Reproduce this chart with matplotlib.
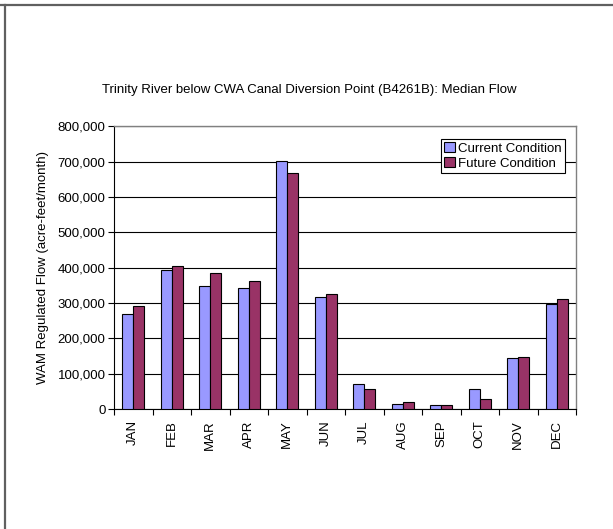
import numpy as np
import matplotlib.pyplot as plt
from matplotlib.lines import Line2D
from matplotlib.ticker import FuncFormatter

plt.rcParams['font.family'] = ['Liberation Sans', 'DejaVu Sans']

months = ['JAN', 'FEB', 'MAR', 'APR', 'MAY', 'JUN',
          'JUL', 'AUG', 'SEP', 'OCT', 'NOV', 'DEC']
current = [268000, 393000, 347000, 343000, 702000, 317000,
           70000, 15000, 11000, 58000, 143000, 297000]
future = [291000, 406000, 384000, 361000, 667000, 325000,
          56000, 20000, 11000, 27000, 148000, 312000]

fig = plt.figure(figsize=(6.13, 5.29), dpi=100)
ax = fig.add_axes([0.186, 0.2268, 0.7537, 0.5344])

x = np.arange(len(months))
w = 0.29
ax.bar(x - w / 2, current, w, color='#9999FF', edgecolor='black', linewidth=0.8,
       label='Current Condition', zorder=3)
ax.bar(x + w / 2, future, w, color='#993366', edgecolor='black', linewidth=0.8,
       label='Future Condition', zorder=3)

ax.set_xlim(-0.5, 11.5)
ax.set_ylim(0, 800000)
ax.set_yticks(np.arange(0, 800001, 100000))
ax.yaxis.set_major_formatter(FuncFormatter(lambda v, p: f'{int(v):,}'))
ax.grid(axis='y', color='black', linewidth=0.8, zorder=0)

ax.set_xticks(x)
ax.set_xticklabels(months, rotation=90)
ax.set_xticks(np.arange(-0.5, 12, 1), minor=True)
ax.tick_params(axis='x', which='major', length=0, pad=8)
ax.tick_params(axis='x', which='minor', length=4, direction='out', width=0.8)
ax.tick_params(axis='y', length=4, width=0.8, direction='out', pad=2)
ax.tick_params(labelsize=9.5)

for side in ['top', 'right']:
    ax.spines[side].set_color('#808080')
    ax.spines[side].set_linewidth(1.0)
for side in ['left', 'bottom']:
    ax.spines[side].set_color('black')
    ax.spines[side].set_linewidth(0.8)

ax.set_ylabel('WAM Regulated Flow (acre-feet/month)', fontsize=9.5, labelpad=6)
fig.text(0.504, 0.83, 'Trinity River below CWA Canal Diversion Point (B4261B): Median Flow',
         ha='center', va='center', fontsize=9.5)

leg = ax.legend(loc='upper right', bbox_to_anchor=(0.977, 0.955), fontsize=9.5,
                frameon=True, fancybox=False, edgecolor='black', framealpha=1,
                handlelength=0.8, handleheight=0.8, handletextpad=0.3,
                borderpad=0.25, labelspacing=0.15, borderaxespad=0)
leg.get_frame().set_linewidth(0.8)

# outer page frame lines
fig.add_artist(Line2D([0, 1], [1 - 5 / 529, 1 - 5 / 529], color='#606060', linewidth=1.6))
fig.add_artist(Line2D([5.5 / 613, 5.5 / 613], [0, 1 - 5 / 529], color='#606060', linewidth=1.6))

fig.savefig('out.png', dpi=100)
